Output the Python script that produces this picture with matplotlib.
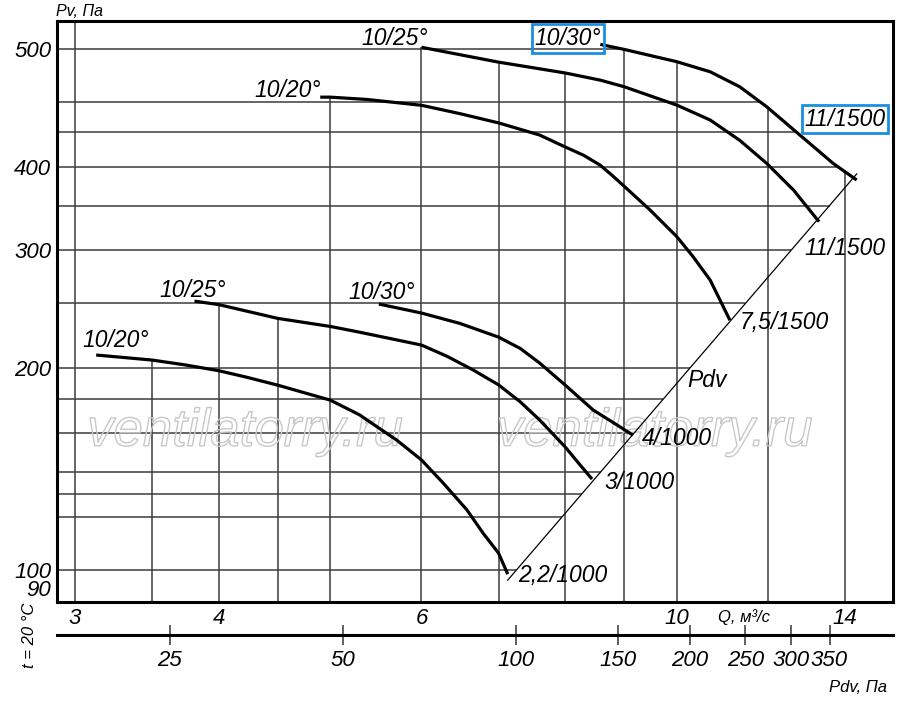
import numpy as np
import matplotlib
matplotlib.use("Agg")
import matplotlib.pyplot as plt
import matplotlib.patheffects as pe
from matplotlib.ticker import FixedLocator, NullLocator

plt.rcParams['font.family'] = ['Liberation Sans', 'DejaVu Sans']
plt.rcParams['font.style'] = 'italic'

# fan curves, Q (m3/s) vs Pv (Pa)
q_20_small = [3.13, 3.5, 3.74, 4.0, 4.23, 4.5, 5.0, 5.3, 5.45, 5.71, 6.0, 6.27, 6.57, 6.79, 7.0, 7.13]
p_20_small = [209.4, 205.8, 202.4, 198.4, 194, 188.8, 179.3, 170.5, 165, 156.3, 146, 134.7, 123, 113.4, 106, 98.6]

q_25_small = [3.81, 4.0, 4.5, 5.0, 5.3, 6.0, 6.31, 6.65, 7.0, 7.31, 7.6, 8.0, 8.21, 8.44]
p_25_small = [252, 249, 237.5, 231, 226.5, 216.7, 208.6, 199, 189, 178.3, 167.5, 152.6, 144.6, 136.7]

q_30_small = [5.51, 6.0, 6.48, 7.0, 7.31, 7.6, 8.0, 8.46, 8.81, 9.16]
p_30_small = [249.5, 241.9, 233.4, 222.7, 214.2, 203.7, 188.8, 173.3, 165.9, 159]

q_20_big = [4.9, 5.0, 5.38, 6.0, 6.48, 7.0, 7.6, 8.0, 8.3, 8.58, 8.79, 9.0, 9.48, 10.0, 10.33, 10.69, 11.12]
p_20_big = [508, 508, 504, 494, 480, 465, 446, 428, 416, 402, 388, 374, 344.6, 314.5, 293.6, 270.9, 236]

q_25_big = [6.0, 7.0, 8.0, 8.58, 9.0, 10.0, 10.69, 11.34, 11.97, 12.63, 13.29]
p_25_big = [603, 573, 552, 538.6, 526.5, 494.3, 469.6, 438, 404.6, 369.1, 331.1]

q_30_big = [8.58, 9.0, 10.0, 10.69, 11.34, 11.97, 12.79, 13.67, 14.33]
p_30_big = [609, 598.6, 573.8, 554.3, 526.5, 491.5, 446, 404.6, 382.1]

curves = [(q_20_small, p_20_small), (q_25_small, p_25_small), (q_30_small, p_30_small),
          (q_20_big, p_20_big), (q_25_big, p_25_big), (q_30_big, p_30_big)]

# dynamic pressure Pdv = k * Q^2
PDV_K = 1.9
pdv_ticks = [25, 50, 100, 150, 200, 250, 300, 350]

q_ticks = [3, 4, 6, 10, 14]
q_grid = [3, 3.5, 4, 4.5, 5, 6, 7, 8, 9, 10, 12, 14]
p_grid = [100, 120, 130, 140, 160, 180, 200, 250, 300, 350, 400, 450, 500, 600]
p_tick_pos = [90, 100, 200, 300, 400, 600]
p_tick_labels = ['90', '100', '200', '300', '400', '500']

Q_MIN, Q_MAX = 2.894, 15.41
P_MIN, P_MAX = 89.6, 660

fig = plt.figure(figsize=(9, 7.06), dpi=100)
ax = fig.add_axes([57/900, 1-602/706, 836/900, 581/706])
ax.set_xscale('log')
ax.set_yscale('log')
ax.set_xlim(Q_MIN, Q_MAX)
ax.set_ylim(P_MIN, P_MAX)

q_lo = min(c[0][-1] for c in curves)
q_hi = max(c[0][-1] for c in curves)


def grid_top(q):
    tops = [np.interp(np.log(q), np.log(cq), np.log(cp))
            for cq, cp in curves if cq[0] <= q <= cq[-1]]
    return np.exp(max(tops)) if tops else P_MAX


def grid_right(p):
    if p <= PDV_K * q_hi ** 2:
        return np.sqrt(p / PDV_K)
    return np.exp(np.interp(np.log(p), np.log(p_30_big[::-1]), np.log(q_30_big[::-1])))


gcol = '#3c3c3c'
for q in q_grid:
    ax.vlines(q, P_MIN, grid_top(q), color=gcol, lw=1.1, zorder=1)
for p in p_grid:
    ax.hlines(p, Q_MIN, grid_right(p), color=gcol, lw=1.1, zorder=1)

# watermark
for xw in (0.225, 0.715):
    ax.text(xw, 0.293, 'ventilatorry.ru', transform=ax.transAxes, fontsize=38,
            ha='center', va='center', color='none', zorder=2,
            path_effects=[pe.Stroke(linewidth=1.0, foreground='#c8c8c8')])

for cq, cp in curves:
    ax.plot(cq, cp, color='black', lw=2.3, solid_capstyle='butt',
            solid_joinstyle='round', zorder=4)

qd = np.array([q_lo, q_hi])
ax.plot(qd, PDV_K * qd ** 2, color='black', lw=0.9, zorder=3)

lab = dict(fontsize=16.5, ha='center', va='center', zorder=5)
ax.text(3.256, 220.4, '10/20°', **lab)
ax.text(3.798, 261.8, '10/25°', **lab)
ax.text(5.544, 260, '10/30°', **lab)
ax.text(4.595, 520.5, '10/20°', **lab)
ax.text(5.69, 622, '10/25°', **lab)
box = dict(boxstyle='square,pad=0.12', fc='none', ec='#1a8fe0', lw=2.0)
ax.text(8.04, 622, '10/30°', bbox=box, **lab)
ax.text(14.0, 471, '11/1500', bbox=box, **lab)
ax.text(14.0, 302.4, '11/1500', **lab)
ax.text(12.39, 234.5, '7,5/1500', **lab)
ax.text(10.62, 192, 'Pdv', **lab)
ax.text(10.0, 156.9, '4/1000', **lab)
ax.text(9.29, 134.9, '3/1000', **lab)
ax.text(7.96, 98.3, '2,2/1000', **lab)

for s in ax.spines.values():
    s.set_linewidth(2.2)

ax.xaxis.set_major_locator(FixedLocator(q_ticks))
ax.xaxis.set_minor_locator(NullLocator())
ax.set_xticklabels([str(v) for v in q_ticks])
ax.yaxis.set_major_locator(FixedLocator(p_tick_pos))
ax.yaxis.set_minor_locator(NullLocator())
ax.set_yticklabels(p_tick_labels)
ax.tick_params(axis='both', length=0, labelsize=16, pad=4)
ax.get_yticklabels()[0].set_va('bottom')

sec = ax.secondary_xaxis(-33/581, functions=(lambda q: PDV_K * np.asarray(q) ** 2,
                                              lambda p: np.sqrt(np.asarray(p) / PDV_K)))
sec.xaxis.set_major_locator(FixedLocator(pdv_ticks))
sec.xaxis.set_minor_locator(NullLocator())
sec.set_xticklabels([str(v) for v in pdv_ticks])
sec.tick_params(axis='x', direction='inout', length=15, width=1.2, color='#444444',
                labelsize=16, pad=3)
for s in sec.spines.values():
    s.set_linewidth(2.2)

fig.text(80/900, 1-11/706, 'Pv, Па', fontsize=11.5, ha='center', va='center')
fig.text(744/900, 1-617/706, 'Q, м³/с', fontsize=12, ha='center', va='center')
fig.text(858/900, 1-687/706, 'Pdv, Па', fontsize=12, ha='center', va='center')
fig.text(29/900, 1-635/706, 't = 20 °C', fontsize=12, rotation=90, ha='center', va='center')

fig.savefig('out.png', dpi=100)
